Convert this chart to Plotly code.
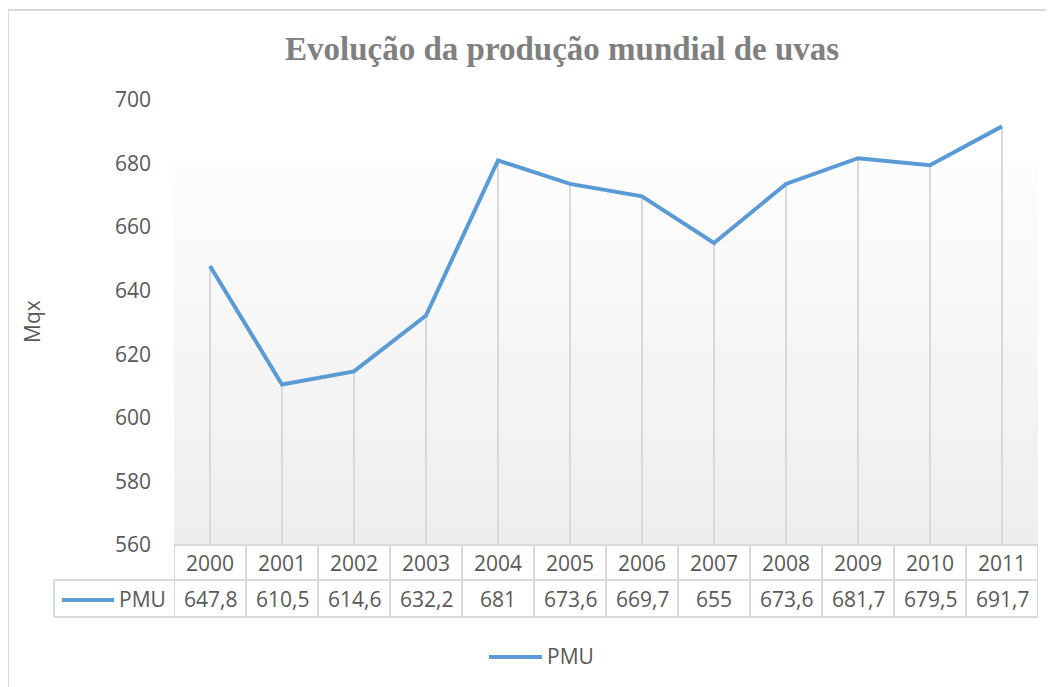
import plotly.graph_objects as go

# ---- data ----
years = ["2000", "2001", "2002", "2003", "2004", "2005", "2006", "2007", "2008", "2009", "2010", "2011"]
pmu = [647.8, 610.5, 614.6, 632.2, 681, 673.6, 669.7, 655, 673.6, 681.7, 679.5, 691.7]
series_name = "PMU"
title_text = "Evolução da produção mundial de uvas"
y_title = "Mqx"
y_min, y_max, y_step = 560, 700, 20

# ---- geometry helpers (reference pixel -> paper) ----
OFF = 8  # page body margin
W, H = 1054 - OFF, 687 - OFF
L, T = 174 - OFF, 100 - OFF
R = W - (1038 - OFF)
B = H - (545 - OFF)
PW, PH = W - L - R, H - T - B


def px(xp):
    return (xp - OFF - L) / PW


def py(yp):
    return 1 - (yp - OFF - T) / PH


line_color = "#5b9bd5"
grid_color = "#d9d9d9"
text_color = "#595959"
font_family = "Open Sans, Lato, sans-serif"

n = len(years)
xi = list(range(n))

fig = go.Figure()

# background gradient of the plot area
fig.add_trace(go.Scatter(
    x=[-0.5, n - 0.5, n - 0.5, -0.5, -0.5],
    y=[y_min, y_min, y_max, y_max, y_min],
    mode="lines", line=dict(width=0), fill="toself",
    fillgradient=dict(type="vertical", start=y_min, stop=y_max,
                      colorscale=[[0, "#eeeeee"], [0.86, "#fdfdfd"], [0.861, "#ffffff"], [1, "#ffffff"]]),
    hoverinfo="skip", showlegend=False,
))

# drop lines
dx, dy = [], []
for i, v in zip(xi, pmu):
    dx += [i, i, None]
    dy += [v, y_min, None]
fig.add_trace(go.Scatter(x=dx, y=dy, mode="lines", line=dict(color=grid_color, width=2),
                         hoverinfo="skip", showlegend=False))

# main line
fig.add_trace(go.Scatter(x=xi, y=pmu, mode="lines", name=series_name,
                         line=dict(color=line_color, width=4), showlegend=False))

shapes = []
annotations = []

# ---- data table ----
y_top = py(545)
y_mid = py(580)
y_bot = py(617)
x_tab_left = px(54)
tline = dict(color=grid_color, width=2)

shapes.append(dict(type="line", xref="x", yref="paper", x0=-0.5, x1=n - 0.5, y0=y_top, y1=y_top, line=tline))
shapes.append(dict(type="line", xref="paper", yref="paper", x0=x_tab_left, x1=1, y0=y_mid, y1=y_mid, line=tline))
shapes.append(dict(type="line", xref="paper", yref="paper", x0=x_tab_left, x1=1, y0=y_bot, y1=y_bot, line=tline))
shapes.append(dict(type="line", xref="paper", yref="paper", x0=x_tab_left, x1=x_tab_left, y0=y_mid, y1=y_bot, line=tline))
for k in range(n + 1):
    shapes.append(dict(type="line", xref="x", yref="paper", x0=k - 0.5, x1=k - 0.5, y0=y_top, y1=y_bot, line=tline))

tfont = dict(family=font_family, size=21, color=text_color)
for i, (yr, v) in enumerate(zip(years, pmu)):
    annotations.append(dict(x=i, y=py(563), xref="x", yref="paper", text=yr, showarrow=False,
                            font=tfont, xanchor="center", yanchor="middle"))
    annotations.append(dict(x=i, y=py(599), xref="x", yref="paper", text=f"{v:g}".replace(".", ","),
                            showarrow=False, font=tfont, xanchor="center", yanchor="middle"))

# legend key inside the table
shapes.append(dict(type="line", xref="paper", yref="paper", x0=px(62), x1=px(114), y0=py(600), y1=py(600),
                   line=dict(color=line_color, width=4)))
annotations.append(dict(x=px(168), y=py(599), xref="paper", yref="paper", text=series_name, showarrow=False,
                        font=tfont, xanchor="right", yanchor="middle"))

# bottom legend
shapes.append(dict(type="line", xref="paper", yref="paper", x0=px(489), x1=px(542), y0=py(657), y1=py(657),
                   line=dict(color=line_color, width=4)))
annotations.append(dict(x=px(545), y=py(656), xref="paper", yref="paper", text=series_name, showarrow=False,
                        font=tfont, xanchor="left", yanchor="middle"))

# title
annotations.append(dict(x=px(562), y=py(49), xref="paper", yref="paper", text=f"<b>{title_text}</b>",
                        showarrow=False, xanchor="center", yanchor="middle",
                        font=dict(family="Liberation Serif, Times New Roman, serif", size=33, color="#808080")))

# y axis title
annotations.append(dict(x=px(32), y=py(322), xref="paper", yref="paper", text=y_title, showarrow=False,
                        textangle=-90, xanchor="center", yanchor="middle", font=tfont))

# chart outer border
shapes.append(dict(type="rect", xref="paper", yref="paper", x0=px(8), x1=px(1070), y0=py(10), y1=py(700),
                   line=dict(color=grid_color, width=2), fillcolor="rgba(0,0,0,0)"))

fig.update_layout(
    width=W, height=H,
    margin=dict(l=L, r=R, t=T, b=B),
    paper_bgcolor="white", plot_bgcolor="white",
    shapes=shapes, annotations=annotations,
    showlegend=False,
    xaxis=dict(range=[-0.5, n - 0.5], showticklabels=False, showgrid=False, zeroline=False,
               showline=False, ticks=""),
    yaxis=dict(range=[y_min, y_max], dtick=y_step, tick0=y_min, showgrid=False, zeroline=False,
               showline=False, ticks="", ticklabelstandoff=22,
               tickfont=dict(family=font_family, size=21, color=text_color)),
)

fig.write_html("out.html")
